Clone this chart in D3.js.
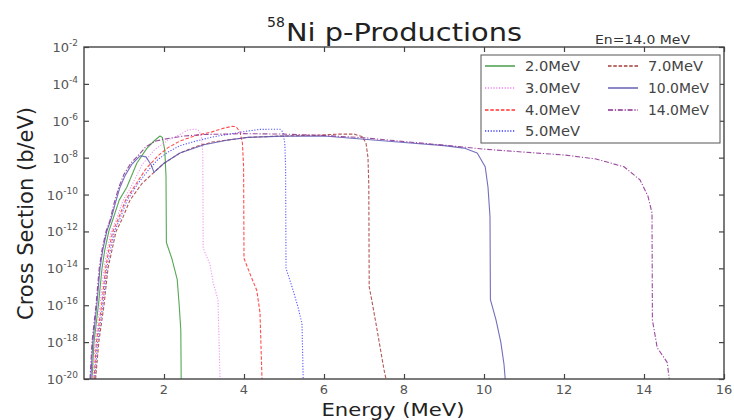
<!DOCTYPE html>
<html>
<head>
<meta charset="utf-8">
<script src="https://cdn.jsdelivr.net/npm/d3@7"></script>
<style>
  html, body { margin: 0; padding: 0; background: #fff; }
  svg { display: block; font-family: "DejaVu Sans", sans-serif; }
</style>
</head>
<body>
<svg id="chart" width="734" height="420"></svg>
<script>
// Proton emission spectra of 58Ni for several incident neutron energies.
// Each series: [outgoing proton energy (MeV), cross section (b/eV)].
const seriesLabels = ["2.0MeV", "3.0MeV", "4.0MeV", "5.0MeV", "7.0MeV", "10.0MeV", "14.0MeV"];
const seriesColors = ["#3a963a", "#ee82ee", "#ff3030", "#3a3aff", "#a83a3a", "#5a55b0", "#8a2a90"];
const seriesDashes = ["none", "1.2,1.6", "3.5,1.8", "1.2,1.6", "3.5,1.8", "none", "5,1.8,1.2,1.8"];

const spectrum2 = [[0.20,1e-20],[0.25,1e-18],[0.36,1e-16],[0.45,1e-14],[0.52,1e-13],[0.62,1e-12],[0.73,5e-12],[0.88,5e-11],[1.07,2.5e-10],[1.32,5e-9],[1.57,3.2e-8],[1.75,8e-8],[1.90,1.5e-7],[1.96,1.25e-7],[2.02,2.5e-8],[2.05,1e-9],[2.06,2.5e-13],[2.20,3.2e-14],[2.33,2.5e-15],[2.38,1e-16],[2.42,4.5e-18],[2.43,1e-20]];
const spectrum3 = [[0.22,1e-20],[0.28,1e-18],[0.40,1e-16],[0.50,1e-14],[0.58,1e-13],[0.68,1e-12],[0.80,4e-12],[0.98,5e-11],[1.17,2.5e-10],[1.45,4e-9],[1.75,2.5e-8],[2.10,9e-8],[2.40,1.8e-7],[2.60,3.2e-7],[2.80,3.5e-7],[2.88,2.8e-7],[2.94,1.26e-7],[2.97,1.6e-8],[2.98,1.26e-13],[3.15,1.6e-14],[3.23,1.6e-15],[3.35,2e-16],[3.40,1e-20]];
const spectrum4 = [[0.25,1e-20],[0.31,1e-18],[0.44,1e-16],[0.54,1e-14],[0.62,1e-13],[0.72,1e-12],[0.86,5e-12],[1.04,5e-11],[1.28,3.2e-10],[1.55,2.5e-9],[1.85,1.26e-8],[2.10,3.5e-8],[2.40,8e-8],[2.80,1.6e-7],[3.20,2.5e-7],[3.50,4e-7],[3.70,5e-7],[3.80,4.8e-7],[3.90,2.5e-7],[3.96,6.3e-8],[3.99,3.2e-9],[4.00,3.5e-14],[4.15,5e-15],[4.32,6.3e-16],[4.40,4e-17],[4.45,1e-20]];
const spectrum5 = [[0.27,1e-20],[0.34,1e-18],[0.47,1e-16],[0.57,1e-14],[0.66,1e-13],[0.76,1e-12],[0.90,5e-12],[1.08,5e-11],[1.35,4e-10],[1.60,2e-9],[1.85,8e-9],[2.10,2e-8],[2.40,4.5e-8],[2.80,8e-8],[3.20,1.3e-7],[3.70,2e-7],[4.10,2.8e-7],[4.40,3.4e-7],[4.90,3.5e-7],[4.97,2.5e-7],[5.02,6.3e-8],[5.04,3.2e-9],[5.05,1e-14],[5.20,1e-15],[5.35,8e-17],[5.45,1e-17],[5.48,1e-20]];
const spectrum7 = [[0.29,1e-20],[0.37,1e-18],[0.50,1e-16],[0.60,1e-14],[0.70,1e-13],[0.80,1e-12],[0.96,5e-12],[1.15,5e-11],[1.45,4e-10],[1.75,1.6e-9],[2.00,5e-9],[2.40,1.8e-8],[2.80,4e-8],[3.20,7e-8],[4.10,1.26e-7],[4.90,1.48e-7],[5.80,1.66e-7],[6.40,1.9e-7],[6.75,1.9e-7],[6.95,1.4e-7],[7.05,6.3e-8],[7.10,1e-8],[7.12,3.2e-10],[7.13,1e-15],[7.20,1.6e-16],[7.30,1e-17],[7.42,3.2e-19],[7.50,3.2e-20],[7.55,1e-20]];
const spectrum10 = [[0.17,1e-20],[0.22,1e-18],[0.32,1e-16],[0.40,1e-14],[0.47,1e-13],[0.57,1e-12],[0.68,5e-12],[0.78,3.2e-11],[0.90,2.5e-10],[1.03,1.1e-9],[1.20,4.5e-9],[1.40,1.26e-8],[1.55,1.1e-8],[1.68,4e-9],[1.75,1.6e-9],[2.00,5e-9],[2.40,1.8e-8],[3.00,5e-8],[3.60,9e-8],[4.10,1.26e-7],[5.00,1.48e-7],[6.00,1.5e-7],[7.00,1e-7],[8.00,6.6e-8],[9.00,4.5e-8],[9.50,3.3e-8],[9.83,1.8e-8],[10.03,3.2e-9],[10.10,2.5e-10],[10.15,6.3e-12],[10.16,2e-16],[10.30,1.6e-17],[10.42,1e-18],[10.50,6.3e-20],[10.53,1e-20]];
const spectrum14 = [[0.15,1e-20],[0.20,1e-18],[0.30,1e-16],[0.38,1e-14],[0.45,1e-13],[0.55,1e-12],[0.65,4e-12],[0.75,3.2e-11],[0.87,2.5e-10],[1.00,1.26e-9],[1.17,5e-9],[1.35,1.26e-8],[1.55,4e-8],[1.80,8e-8],[2.10,1.1e-7],[2.50,1.5e-7],[3.00,1.8e-7],[4.00,2e-7],[5.00,1.9e-7],[6.00,1.6e-7],[7.00,1.2e-7],[8.00,7.5e-8],[9.00,4.8e-8],[10.00,2.9e-8],[11.00,2e-8],[12.00,1.4e-8],[12.80,8.5e-9],[13.50,3.2e-9],[13.90,6.3e-10],[14.10,8e-11],[14.20,1e-11],[14.21,1.6e-17],[14.33,5e-19],[14.58,8e-20],[14.63,1e-20]];

const spectra = [spectrum2, spectrum3, spectrum4, spectrum5, spectrum7, spectrum10, spectrum14];

const xTicks = [2, 4, 6, 8, 10, 12, 14, 16];
const yTickExponents = [-2, -4, -6, -8, -10, -12, -14, -16, -18, -20];

const plot = { left: 84, right: 724, top: 47, bottom: 379 };
const svg = d3.select("#chart");

const x = d3.scaleLinear().domain([0, 16]).range([plot.left, plot.right]);
const y = d3.scaleLog().domain([1e-20, 1e-2]).range([plot.bottom, plot.top]);
const yTicks = yTickExponents.map(e => Math.pow(10, e));

svg.append("defs").append("clipPath").attr("id", "plotClip")
  .append("rect")
  .attr("x", plot.left).attr("y", plot.top)
  .attr("width", plot.right - plot.left).attr("height", plot.bottom - plot.top);

// spectra
const line = d3.line().x(d => x(d[0])).y(d => y(d[1]));
const curves = svg.append("g").attr("clip-path", "url(#plotClip)");
spectra.forEach((s, i) => {
  curves.append("path")
    .attr("d", line(s))
    .attr("fill", "none")
    .attr("stroke", seriesColors[i])
    .attr("stroke-width", 1.1)
    .attr("stroke-opacity", 0.85)
    .attr("stroke-dasharray", seriesDashes[i])
    .attr("stroke-linejoin", "round");
});

// axes with inward ticks on all four sides
const axisColor = "#444";
function styleAxis(g) {
  g.select(".domain").remove();
  g.selectAll(".tick line").attr("stroke", axisColor).attr("stroke-width", 1.2);
}
svg.append("g").attr("transform", `translate(0,${plot.bottom})`)
  .call(d3.axisBottom(x).tickValues(xTicks).tickSize(-5).tickFormat("")).call(styleAxis);
svg.append("g").attr("transform", `translate(0,${plot.top})`)
  .call(d3.axisTop(x).tickValues(xTicks).tickSize(-5).tickFormat("")).call(styleAxis);
svg.append("g").attr("transform", `translate(${plot.left},0)`)
  .call(d3.axisLeft(y).tickValues(yTicks).tickSize(-5).tickFormat("")).call(styleAxis);
svg.append("g").attr("transform", `translate(${plot.right},0)`)
  .call(d3.axisRight(y).tickValues(yTicks).tickSize(-5).tickFormat("")).call(styleAxis);

svg.append("rect")
  .attr("x", plot.left).attr("y", plot.top)
  .attr("width", plot.right - plot.left).attr("height", plot.bottom - plot.top)
  .attr("fill", "none").attr("stroke", axisColor).attr("stroke-width", 1.4);

// tick labels
const labelColor = "#555";
svg.append("g").selectAll("text").data(xTicks).join("text")
  .attr("x", d => x(d)).attr("y", plot.bottom + 15)
  .attr("text-anchor", "middle").attr("font-size", 13).attr("fill", labelColor)
  .text(d => d);

const yLab = svg.append("g").selectAll("text").data(yTickExponents).join("text")
  .attr("x", plot.left - 6).attr("y", d => y(Math.pow(10, d)) + 5)
  .attr("text-anchor", "end").attr("fill", labelColor);
yLab.append("tspan").attr("font-size", 13).text("10");
yLab.append("tspan").attr("font-size", 9).attr("dy", -6).text(d => "-" + Math.abs(d));

// axis titles
svg.append("text")
  .attr("transform", `translate(33,${(105 + 322) / 2}) rotate(-90)`)
  .attr("text-anchor", "middle").attr("font-size", 21).attr("fill", "#222")
  .text("Cross Section (b/eV)");
svg.append("text")
  .attr("x", 393).attr("y", 416)
  .attr("text-anchor", "middle").attr("font-size", 17).attr("fill", "#222")
  .attr("textLength", 143).attr("lengthAdjust", "spacingAndGlyphs")
  .text("Energy (MeV)");

// title: superscript mass number, then the reaction name
svg.append("text")
  .attr("x", 267).attr("y", 27).attr("font-size", 14).attr("fill", "#222")
  .text("58");
svg.append("text")
  .attr("x", 286).attr("y", 41).attr("font-size", 25).attr("fill", "#222")
  .attr("textLength", 236).attr("lengthAdjust", "spacingAndGlyphs")
  .text("Ni p-Productions");

svg.append("text")
  .attr("x", 595).attr("y", 44).attr("font-size", 13).attr("fill", "#333")
  .attr("textLength", 95).attr("lengthAdjust", "spacingAndGlyphs")
  .text("En=14.0 MeV");

// legend
const legend = svg.append("g");
legend.append("rect")
  .attr("x", 481).attr("y", 55).attr("width", 239).attr("height", 88)
  .attr("fill", "#fff").attr("stroke", "#555").attr("stroke-width", 1);
const legendCols = [485, 608];
const legendRows = [66, 88, 110, 131];
seriesLabels.forEach((lab, i) => {
  const col = i < 4 ? 0 : 1;
  const row = i < 4 ? i : i - 4;
  const lx = legendCols[col], ly = legendRows[row];
  legend.append("line")
    .attr("x1", lx).attr("x2", lx + 30).attr("y1", ly).attr("y2", ly)
    .attr("stroke", seriesColors[i]).attr("stroke-width", 1.4)
    .attr("stroke-dasharray", seriesDashes[i]);
  legend.append("text")
    .attr("x", lx + 40).attr("y", ly + 5)
    .attr("font-size", 14).attr("fill", "#444")
    .attr("textLength", lab.length > 6 ? 61 : 55).attr("lengthAdjust", "spacingAndGlyphs")
    .text(lab);
});
</script>
</body>
</html>
